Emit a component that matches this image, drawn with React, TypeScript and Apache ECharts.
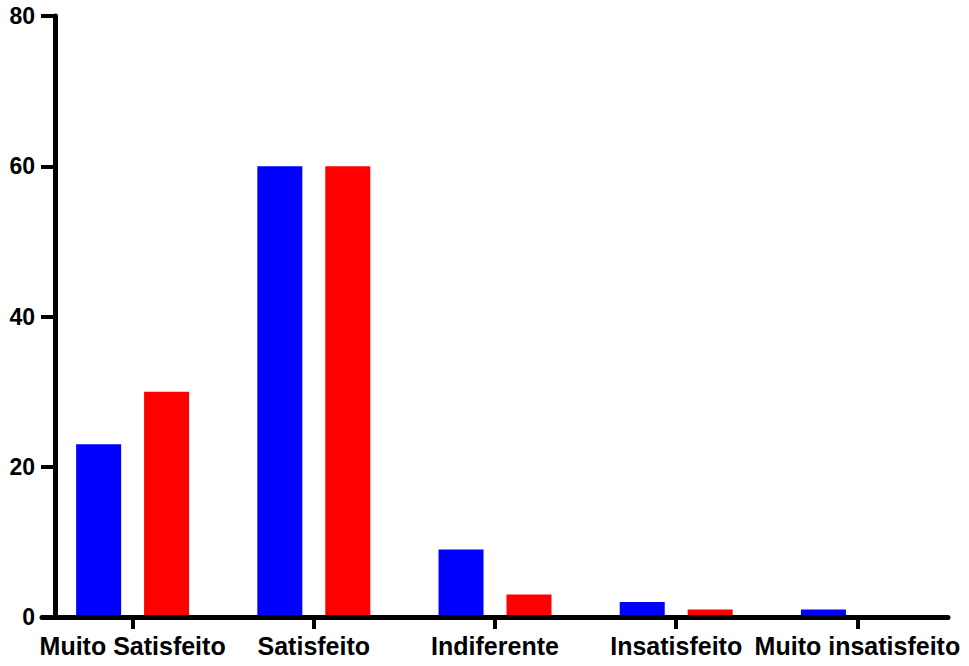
import React, { useEffect, useRef } from "react";
import * as echarts from "echarts";

const categories = ["Muito Satisfeito", "Satisfeito", "Indiferente", "Insatisfeito", "Muito insatisfeito"];
const blueValues = [23, 60, 9, 2, 1];
const redValues = [30, 60, 3, 1, 0];
const yTicks = { min: 0, max: 80, interval: 20 };

export default function App() {
  const ref = useRef<HTMLDivElement>(null);
  useEffect(() => {
    const chart = echarts.init(ref.current!, null, { renderer: "svg" });
    const font = "'Liberation Sans', Arial, Helvetica, sans-serif";
    chart.setOption({
      animation: false,
      grid: { left: 42, right: 21, top: 16, bottom: 49, containLabel: false },
      xAxis: {
        type: "category",
        data: categories,
        z: 5,
        axisLine: { show: true, lineStyle: { color: "#000", width: 5 } },
        axisTick: { show: true, alignWithLabel: true, length: 12, lineStyle: { color: "#000", width: 4 } },
        axisLabel: { color: "#000", fontSize: 25, fontWeight: "bold", fontFamily: font, margin: 16, interval: 0 },
        splitLine: { show: false },
      },
      yAxis: {
        type: "value",
        min: yTicks.min,
        max: yTicks.max,
        interval: yTicks.interval,
        offset: -13,
        z: 5,
        axisLine: { show: true, lineStyle: { color: "#000", width: 5 } },
        axisTick: { show: true, length: 14, lineStyle: { color: "#000", width: 4 } },
        axisLabel: { color: "#000", fontSize: 23, fontWeight: "bold", fontFamily: font, margin: 20 },
        splitLine: { show: false },
      },
      series: [
        { type: "bar", data: blueValues, barWidth: 45, barGap: "51%", itemStyle: { color: "#0000FF" } },
        { type: "bar", data: redValues, barWidth: 45, barGap: "51%", itemStyle: { color: "#FF0000" } },
      ],
    });
    return () => chart.dispose();
  }, []);
  return <div ref={ref} style={{ width: 969, height: 666, position: "absolute", left: 0, top: 0 }} />;
}
